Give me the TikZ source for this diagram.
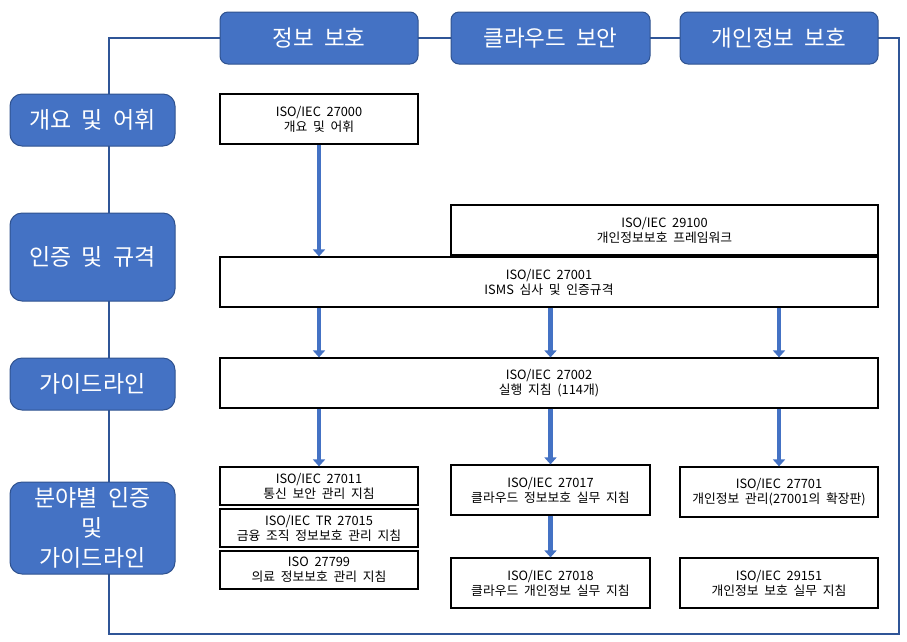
\documentclass[tikz,border=0pt]{standalone}
\usepackage{fontspec}
\setmainfont{Noto Sans CJK KR}[WordSpace=2]
\usetikzlibrary{arrows.meta,positioning}
\definecolor{hdblue}{HTML}{4472C4}
\definecolor{hdedge}{HTML}{2F528F}
\definecolor{framecol}{HTML}{2F5597}

\begin{document}
\begin{tikzpicture}[x=1pt,y=-1pt,
    head/.style={draw=hdedge, line width=1pt, fill=hdblue, rounded corners=8pt, text=white,
      minimum width=198pt, minimum height=52pt, inner sep=0pt, font=\fontsize{22.5}{26}\selectfont},
    side/.style={head, minimum width=165pt, rounded corners=12pt, align=center,
      font=\fontsize{23}{30}\selectfont},
    doc/.style={draw=black, line width=1.2pt, fill=white, align=center, inner sep=0pt,
      minimum width=198pt, minimum height=50pt, font=\fontsize{12.8}{15}\selectfont},
    arr/.style={draw=hdblue, line width=4.5pt, -{Triangle[width=12pt,length=7pt]}}]
        \useasboundingbox (0,0) rectangle (907,641);
        % Frame behind the headers
        \draw[framecol, line width=1.6pt] (109,38) rectangle (899,634);
        % Column headers
        \node[head] (hinfo) at (319,38) {정보 보호};
        \node[head, minimum width=199pt] (hcloud) at (550.5,38) {클라우드 보안};
        \node[head] (hpriv) at (779,38) {개인정보 보호};
        % Row labels
        \node[side] (sterm) at (92.5,120) {개요 및 어휘};
        \node[side, minimum height=88pt] (scert) at (92.5,257) {인증 및 규격};
        \node[side] (sguide) at (92.5,384) {가이드라인};
        \node[side, minimum height=92pt] (sfield) at (92.5,528) {분야별 인증\\및\\가이드라인};
        % Standards
        \node[doc] (b27000) at (319,119) {ISO/IEC 27000\\개요 및 어휘};
        \node[doc, minimum width=427pt] (b29100) at (664.5,230) {ISO/IEC 29100\\개인정보보호 프레임워크};
        \node[doc, minimum width=658pt] (b27001) at (549,282) {ISO/IEC 27001\\ISMS 심사 및 인증규격};
        \node[doc, minimum width=658pt] (b27002) at (549,383) {ISO/IEC 27002\\실행 지침 (114개)};
        \node[doc, minimum height=38pt] (b27011) at (319,486) {ISO/IEC 27011\\통신 보안 관리 지침};
        \node[doc, minimum height=38pt] (b27015) at (319,528) {ISO/IEC TR 27015\\금융 조직 정보보호 관리 지침};
        \node[doc, minimum height=38pt] (b27799) at (319,570) {ISO 27799\\의료 정보보호 관리 지침};
        \node[doc, minimum width=199pt] (b27017) at (550.5,490) {ISO/IEC 27017\\클라우드 정보보호 실무 지침};
        \node[doc, minimum width=199pt] (b27018) at (550.5,583) {ISO/IEC 27018\\클라우드 개인정보 실무 지침};
        \node[doc] (b27701) at (779,492) {ISO/IEC 27701\\개인정보 관리(27001의 확장판)};
        \node[doc] (b29151) at (779,583) {ISO/IEC 29151\\개인정보 보호 실무 지침};
        % Arrows
        \draw[arr] (b27000.south) -- (b27000.south |- b27001.north);
        \draw[arr] (b27001.south -| hinfo) -- (b27002.north -| hinfo);
        \draw[arr] (b27001.south -| hcloud) -- (b27002.north -| hcloud);
        \draw[arr] (b27001.south -| hpriv) -- (b27002.north -| hpriv);
        \draw[arr] (b27002.south -| hinfo) -- (b27011.north);
        \draw[arr] (b27002.south -| hcloud) -- (b27017.north);
        \draw[arr] (b27002.south -| hpriv) -- (b27701.north);
        \draw[arr] (b27017.south) -- (b27018.north);
    \end{tikzpicture}
\end{document}
